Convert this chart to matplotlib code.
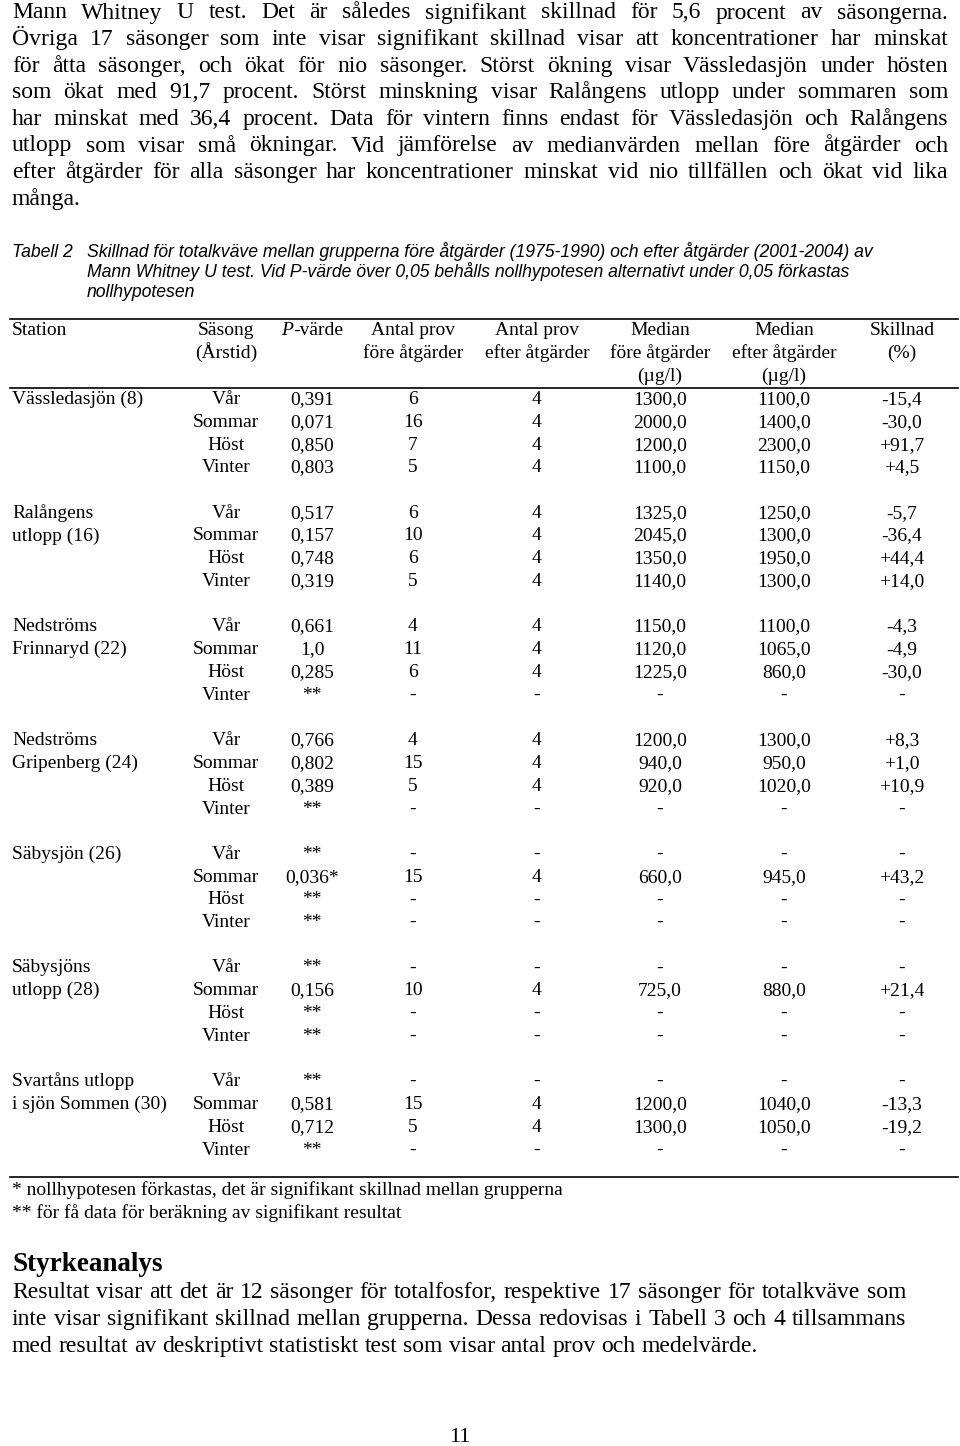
import matplotlib
matplotlib.use("Agg")
import matplotlib.pyplot as plt

# page text
body_top = [
    "Mann Whitney U test. Det är således signifikant skillnad för 5,6 procent av säsongerna.",
    "Övriga 17 säsonger som inte visar signifikant skillnad visar att koncentrationer har minskat",
    "för åtta säsonger, och ökat för nio säsonger. Störst ökning visar Vässledasjön under hösten",
    "som ökat med 91,7 procent. Störst minskning visar Ralångens utlopp under sommaren som",
    "har minskat med 36,4 procent. Data för vintern finns endast för Vässledasjön och Ralångens",
    "utlopp som visar små ökningar. Vid jämförelse av medianvärden mellan före åtgärder och",
    "efter åtgärder för alla säsonger har koncentrationer minskat vid nio tillfällen och ökat vid lika",
    "många.",
]
caption_label = "Tabell 2"
caption = [
    "Skillnad för totalkväve mellan grupperna före åtgärder (1975-1990) och efter åtgärder (2001-2004) av",
    "Mann Whitney U test. Vid P-värde över 0,05 behålls nollhypotesen alternativt under 0,05 förkastas",
    "nollhypotesen",
]
headers = [
    ["Säsong", "(Årstid)"],
    ["P-värde"],
    ["Antal prov", "före åtgärder"],
    ["Antal prov", "efter åtgärder"],
    ["Median", "före åtgärder", "(µg/l)"],
    ["Median", "efter åtgärder", "(µg/l)"],
    ["Skillnad", "(%)"],
]

# table data
stations = [
    ["Vässledasjön (8)"],
    ["Ralångens", "utlopp (16)"],
    ["Nedströms", "Frinnaryd (22)"],
    ["Nedströms", "Gripenberg (24)"],
    ["Säbysjön (26)"],
    ["Säbysjöns", "utlopp (28)"],
    ["Svartåns utlopp", "i sjön Sommen (30)"],
]
seasons = ["Vår", "Sommar", "Höst", "Vinter"]
p_values = [
    ["0,391", "0,071", "0,850", "0,803"],
    ["0,517", "0,157", "0,748", "0,319"],
    ["0,661", "1,0", "0,285", "**"],
    ["0,766", "0,802", "0,389", "**"],
    ["**", "0,036*", "**", "**"],
    ["**", "0,156", "**", "**"],
    ["**", "0,581", "0,712", "**"],
]
n_before = [
    ["6", "16", "7", "5"],
    ["6", "10", "6", "5"],
    ["4", "11", "6", "-"],
    ["4", "15", "5", "-"],
    ["-", "15", "-", "-"],
    ["-", "10", "-", "-"],
    ["-", "15", "5", "-"],
]
n_after = [
    ["4", "4", "4", "4"],
    ["4", "4", "4", "4"],
    ["4", "4", "4", "-"],
    ["4", "4", "4", "-"],
    ["-", "4", "-", "-"],
    ["-", "4", "-", "-"],
    ["-", "4", "4", "-"],
]
median_before = [
    ["1300,0", "2000,0", "1200,0", "1100,0"],
    ["1325,0", "2045,0", "1350,0", "1140,0"],
    ["1150,0", "1120,0", "1225,0", "-"],
    ["1200,0", "940,0", "920,0", "-"],
    ["-", "660,0", "-", "-"],
    ["-", "725,0", "-", "-"],
    ["-", "1200,0", "1300,0", "-"],
]
median_after = [
    ["1100,0", "1400,0", "2300,0", "1150,0"],
    ["1250,0", "1300,0", "1950,0", "1300,0"],
    ["1100,0", "1065,0", "860,0", "-"],
    ["1300,0", "950,0", "1020,0", "-"],
    ["-", "945,0", "-", "-"],
    ["-", "880,0", "-", "-"],
    ["-", "1040,0", "1050,0", "-"],
]
diff_pct = [
    ["-15,4", "-30,0", "+91,7", "+4,5"],
    ["-5,7", "-36,4", "+44,4", "+14,0"],
    ["-4,3", "-4,9", "-30,0", "-"],
    ["+8,3", "+1,0", "+10,9", "-"],
    ["-", "+43,2", "-", "-"],
    ["-", "+21,4", "-", "-"],
    ["-", "-13,3", "-19,2", "-"],
]
footnotes = [
    "* nollhypotesen förkastas, det är signifikant skillnad mellan grupperna",
    "** för få data för beräkning av signifikant resultat",
]
heading = "Styrkeanalys"
body_bottom = [
    "Resultat visar att det är 12 säsonger för totalfosfor, respektive 17 säsonger för totalkväve som",
    "inte visar signifikant skillnad mellan grupperna. Dessa redovisas i Tabell 3 och 4 tillsammans",
    "med resultat av deskriptivt statistiskt test som visar antal prov och medelvärde.",
]
page_no = "11"

SERIF = "Liberation Serif"
SANS = "Liberation Sans"
BODY_FS = 17

fig = plt.figure(figsize=(9.6, 14.46), dpi=100)
ax = fig.add_axes([0, 0, 1, 1])
ax.set_xlim(0, 960)
ax.set_ylim(1446, 0)
ax.axis("off")
renderer = fig.canvas.get_renderer()


def width(t):
    return t.get_window_extent(renderer).width


def justify(line, x0, x1, y, size, last=False, family=SERIF, **kw):
    words = line.split()
    objs = [ax.text(0, y, w, fontsize=size, family=family, va="baseline", **kw) for w in words]
    ws = [width(o) for o in objs]
    gap = 0.25 * size * 100 / 72
    if not last and len(words) > 1:
        gap = (x1 - x0 - sum(ws)) / (len(words) - 1)
    x = x0
    for o, w in zip(objs, ws):
        o.set_x(x)
        x += w + gap


# top paragraph
for i, line in enumerate(body_top):
    justify(line, 12, 948, 18.5 + i * 26.6, BODY_FS, last=(i == len(body_top) - 1))

# caption
cap_y = [257, 277, 297]
ax.text(12, cap_y[0], caption_label, fontsize=12.7, family=SANS, style="italic", va="baseline")
for y, line in zip(cap_y, caption):
    ax.text(87, y, line, fontsize=12.7, family=SANS, style="italic", va="baseline")

# table rules
ax.plot([10, 958], [319, 319], color="black", lw=1.2)
ax.plot([10, 958], [388, 388], color="black", lw=1.2)
ax.plot([10, 958], [1177, 1177], color="black", lw=1.2)

col_x = [226, 312, 413, 537, 660, 784, 902]
fs = 14
head_y = [335, 358, 381]
ax.text(12, head_y[0], "Station", fontsize=fs, family=SERIF, va="baseline")
for cx, lines in zip(col_x, headers):
    for j, txt in enumerate(lines):
        if txt == "P-värde":
            rest = ax.text(0, head_y[j], "-värde", fontsize=fs, family=SERIF, va="baseline")
            p = ax.text(0, head_y[j], "P", fontsize=fs, family=SERIF, style="italic", va="baseline")
            wr, wp = width(rest), width(p)
            left = cx - (wr + wp) / 2
            p.set_x(left)
            rest.set_x(left + wp)
        else:
            ax.text(cx, head_y[j], txt, fontsize=fs, family=SERIF, ha="center", va="baseline")

group_y0 = 404
row_step = 22.8
group_step = 113.7
for g in range(len(stations)):
    base = group_y0 + g * group_step
    for j, name in enumerate(stations[g]):
        ax.text(12, base + j * row_step, name, fontsize=fs, family=SERIF, va="baseline")
    cols = [seasons, p_values[g], n_before[g], n_after[g],
            median_before[g], median_after[g], diff_pct[g]]
    for r in range(4):
        y = base + r * row_step
        for cx, col in zip(col_x, cols):
            ax.text(cx, y, col[r], fontsize=fs, family=SERIF, ha="center", va="baseline")

# footnotes
for i, line in enumerate(footnotes):
    ax.text(12, 1195 + i * 22.5, line, fontsize=14, family=SERIF, va="baseline")

# bottom section
ax.text(12, 1271, heading, fontsize=19.5, family=SERIF, weight="bold", va="baseline")
for i, line in enumerate(body_bottom):
    justify(line, 12, 906, 1298 + i * 27, BODY_FS, last=(i == len(body_bottom) - 1))

ax.text(460, 1442, page_no, fontsize=16, family=SERIF, ha="center", va="baseline")

fig.savefig("out.png", dpi=100)
